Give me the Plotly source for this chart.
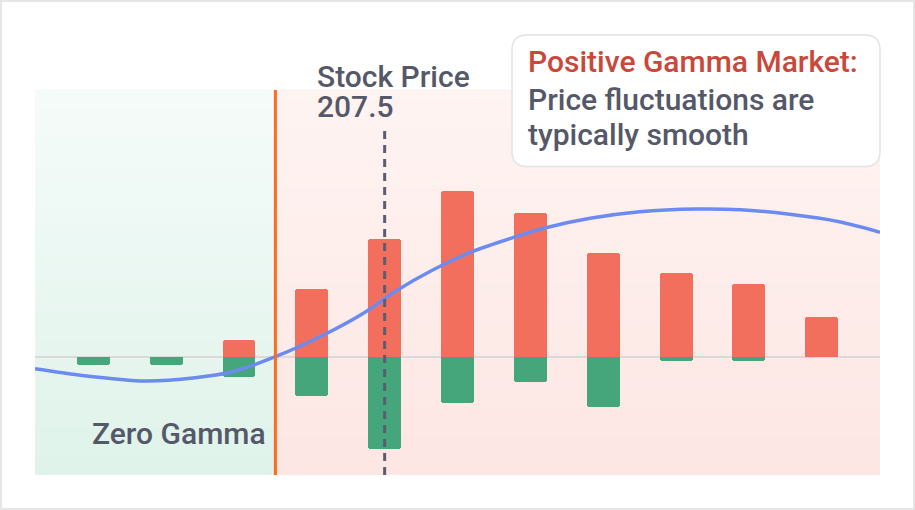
import plotly.graph_objects as go

# ---------------- data ----------------
strikes = [197.5, 200, 202.5, 205, 207.5, 210, 212.5, 215, 217.5, 220, 222.5]
call_gamma = [0, 0, 1.7, 6.8, 11.8, 16.6, 14.35, 10.4, 8.4, 7.3, 4.0]
put_gamma = [-0.85, -0.85, -2.0, -3.9, -9.2, -4.6, -2.5, -5.0, -0.4, -0.4, 0]
curve_x = [195.5, 197.0, 199.3, 201.0, 202.2, 203.75, 205.4, 206.8, 207.9, 209.1, 210.5,
           211.9, 213.1, 214.55, 216.25, 218.2, 219.7, 221.4, 223.1, 224.5]
curve_y = [-1.2, -1.83, -2.43, -2.1, -1.56, 0, 2.17, 4.4, 6.6, 8.6, 10.5,
           11.9, 12.94, 13.84, 14.5, 14.77, 14.7, 14.24, 13.5, 12.45]
stock_price = 207.5
zero_gamma = 203.75
x_range = [195.5, 224.5]
y_range = [-11.83, 26.67]

# ---------------- layout geometry ----------------
WIDTH, HEIGHT = 915, 510
L, R, T, B = 35, 35, 90, 35
PW, PH = WIDTH - L - R, HEIGHT - T - B


def px(x):
    return (x - L) / PW


def py(y):
    return (T + PH - y) / PH


FONT = "Roboto"
TXT = "#555869"
RED = "#F26F5D"
GREEN = "#45A57B"
BLUE = "#6C8BF0"

fig = go.Figure()

fig.add_trace(go.Bar(x=strikes, y=call_gamma, marker=dict(color=RED, cornerradius=3, line_width=0),
                     width=1.13, name="call", hoverinfo="x+y"))
fig.add_trace(go.Bar(x=strikes, y=put_gamma, marker=dict(color=GREEN, cornerradius=3, line_width=0),
                     width=1.13, name="put", hoverinfo="x+y"))
fig.add_trace(go.Scatter(x=curve_x, y=curve_y, mode="lines",
                         line=dict(color=BLUE, width=3.5, shape="spline", smoothing=0.9),
                         name="net", hoverinfo="skip"))

shapes = []


def hexrgb(h):
    h = h.lstrip("#")
    return tuple(int(h[i:i + 2], 16) for i in (0, 2, 4))


def blend(c0, c1, t):
    a, b = hexrgb(c0), hexrgb(c1)
    return "rgb(%d,%d,%d)" % tuple(round(a[i] + (b[i] - a[i]) * t) for i in range(3))


N = 40
regions = [
    (x_range[0], zero_gamma, "#DFF3EA", "#F5FBF9"),
    (zero_gamma, x_range[1], "#FDE6E3", "#FEF4F2"),
]
for x0, x1, cb, ct in regions:
    for i in range(N):
        shapes.append(dict(type="rect", xref="x", yref="paper", x0=x0, x1=x1,
                           y0=i / N, y1=(i + 1) / N + 0.002, fillcolor=blend(cb, ct, (i + 0.5) / N),
                           line=dict(width=0), layer="below"))

# zero gamma line
shapes.append(dict(type="line", xref="x", yref="paper", x0=zero_gamma, x1=zero_gamma, y0=0, y1=1,
                   line=dict(color="#FF6A1F", width=3), layer="above"))
# stock price dashed line
shapes.append(dict(type="line", xref="x", yref="y", x0=stock_price, x1=stock_price,
                   y0=y_range[0], y1=22.75, line=dict(color="#5A5D70", width=3, dash="8px,6px"),
                   layer="above"))

# rounded info box
bx0, bx1, by0, by1, r = 512, 880, 35, 166.5, 15
X0, X1, X2, X3 = px(bx0), px(bx0 + r), px(bx1 - r), px(bx1)
Y0, Y1, Y2, Y3 = py(by0), py(by0 + r), py(by1 - r), py(by1)
path = (f"M {X1} {Y0} L {X2} {Y0} Q {X3} {Y0} {X3} {Y1} L {X3} {Y2} Q {X3} {Y3} {X2} {Y3} "
        f"L {X1} {Y3} Q {X0} {Y3} {X0} {Y2} L {X0} {Y1} Q {X0} {Y0} {X1} {Y0} Z")
shapes.append(dict(type="path", xref="paper", yref="paper", path=path, fillcolor="white",
                   line=dict(color="#E3E3E3", width=1.5), layer="above"))

# page frame
shapes.append(dict(type="rect", xref="paper", yref="paper", x0=px(1), x1=px(914), y0=py(509), y1=py(1),
                   line=dict(color="#E6E6E6", width=2), fillcolor="rgba(0,0,0,0)", layer="above"))

annotations = [
    dict(text="Stock Price", x=px(315), y=py(76.5), xanchor="left", yanchor="middle"),
    dict(text="207.5", x=px(315), y=py(106), xanchor="left", yanchor="middle"),
    dict(text="Zero Gamma", x=px(268), y=py(433), xanchor="right", yanchor="middle"),
    dict(text="Positive Gamma Market:", x=px(526), y=py(62), xanchor="left", yanchor="middle",
         font=dict(family=FONT, size=30, color="#C9483A", weight=500)),
    dict(text="Price fluctuations are", x=px(526), y=py(99.5), xanchor="left", yanchor="middle"),
    dict(text="typically smooth", x=px(526), y=py(134.5), xanchor="left", yanchor="middle"),
]
for a in annotations:
    a.setdefault("font", dict(family=FONT, size=30, color=TXT, weight=500))
    a.update(xref="paper", yref="paper", showarrow=False)

fig.update_layout(
    width=WIDTH, height=HEIGHT,
    margin=dict(l=L, r=R, t=T, b=B, pad=0),
    paper_bgcolor="white", plot_bgcolor="white",
    barmode="relative", bargap=0, showlegend=False,
    shapes=shapes, annotations=annotations,
    font=dict(family=FONT, color=TXT),
    xaxis=dict(range=x_range, showgrid=False, zeroline=False, showticklabels=False, ticks="",
               showline=False, fixedrange=True),
    yaxis=dict(range=y_range, showgrid=False, zeroline=True, zerolinecolor="#DADADA", zerolinewidth=1.5,
               showticklabels=False, ticks="", showline=False, fixedrange=True),
)

fig.write_html("out.html", config={"displayModeBar": False},
               post_script="document.body.style.margin='0';document.body.style.padding='0';")
